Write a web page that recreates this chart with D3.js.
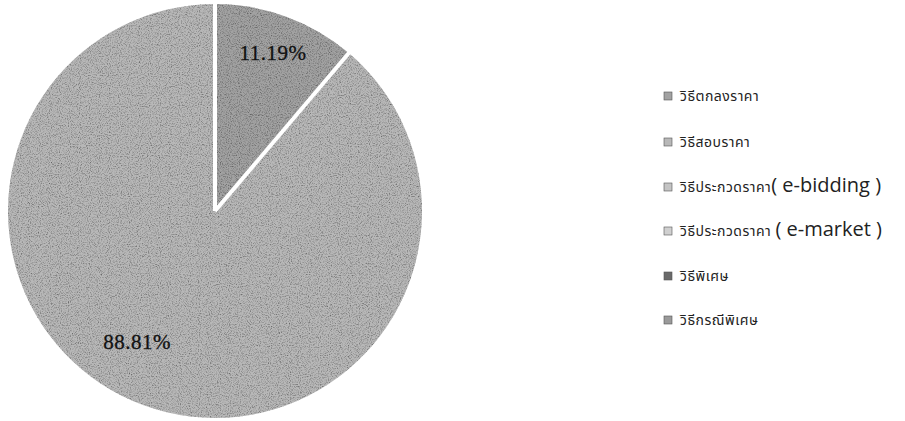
<!DOCTYPE html>
<html>
<head>
<meta charset="utf-8">
<script src="https://cdn.jsdelivr.net/npm/d3@7"></script>
<style>
body { margin: 0; background: #fff; }
</style>
</head>
<body>
<script>
var w = 905;
var h = 421;

// data
var categories = ["วิธีตกลงราคา", "วิธีสอบราคา", "วิธีประกวดราคา", "วิธีประกวดราคา ", "วิธีพิเศษ", "วิธีกรณีพิเศษ"];
var suffixes = ["", "", "( e-bidding )", "( e-market )", "", ""];
var values = [11.19, 88.81, 0, 0, 0, 0];
var labels = ["11.19%", "88.81%", "", "", "", ""];
var colors = ["#a2a2a2", "#b8b8b8", "#c4c4c4", "#d0d0d0", "#6a6a6a", "#9a9a9a"];

var svg = d3.select("body")
  .append("svg")
  .attr("width", w)
  .attr("height", h);

// grainy texture like the scan
var defs = svg.append("defs");
var f = defs.append("filter").attr("id", "grain").attr("x", 0).attr("y", 0).attr("width", 1).attr("height", 1);
f.append("feTurbulence").attr("type", "fractalNoise").attr("baseFrequency", 0.9).attr("numOctaves", 2).attr("seed", 3).attr("result", "noise");
f.append("feColorMatrix").attr("in", "noise").attr("type", "matrix")
  .attr("values", "0 0 0 0 0  0 0 0 0 0  0 0 0 0 0  0 0 0 -1.6 0.9").attr("result", "dots");
f.append("feComposite").attr("in", "dots").attr("in2", "SourceGraphic").attr("operator", "in").attr("result", "dotsIn");
f.append("feMerge").selectAll("feMergeNode").data(["SourceGraphic", "dotsIn"]).enter()
  .append("feMergeNode").attr("in", function(d) { return d; });

var cx = 215, cy = 211, r = 207;

var pie = d3.pie().sort(null).value(function(d) { return d; });
var arc = d3.arc().innerRadius(0).outerRadius(r);

var g = svg.append("g").attr("transform", "translate(" + cx + "," + cy + ")");

var arcs = pie(values).filter(function(d) { return d.value > 0; });

g.append("g").attr("filter", "url(#grain)")
  .selectAll("path")
  .data(arcs)
  .enter()
  .append("path")
  .attr("d", arc)
  .attr("fill", function(d) { return colors[d.index]; });

// white separators
g.selectAll("line.sep")
  .data(arcs)
  .enter()
  .append("line")
  .attr("class", "sep")
  .attr("x1", 0).attr("y1", 0)
  .attr("x2", function(d) { return Math.sin(d.startAngle) * (r + 2); })
  .attr("y2", function(d) { return -Math.cos(d.startAngle) * (r + 2); })
  .attr("stroke", "#fff")
  .attr("stroke-width", 4);

var labelPos = [[58, -151], [-78, 138]];
g.selectAll("text.pct")
  .data(arcs)
  .enter()
  .append("text")
  .attr("class", "pct")
  .attr("x", function(d, i) { return labelPos[i][0]; })
  .attr("y", function(d, i) { return labelPos[i][1]; })
  .attr("text-anchor", "middle")
  .attr("font-family", "'Liberation Serif', serif")
  .attr("font-size", "21px")
  .attr("letter-spacing", "0.5px")
  .attr("fill", "#111")
  .attr("stroke", "#111")
  .attr("stroke-width", 0.3)
  .text(function(d) { return labels[d.index]; });

// legend
var legend = svg.append("g").attr("transform", "translate(664,0)");
var rowY = [101, 147, 192, 236, 281, 325];

var item = legend.selectAll("g")
  .data(categories)
  .enter()
  .append("g")
  .attr("transform", function(d, i) { return "translate(0," + rowY[i] + ")"; });

item.append("rect")
  .attr("x", 0).attr("y", -9)
  .attr("width", 8).attr("height", 8)
  .attr("fill", function(d, i) { return colors[i]; })
  .attr("stroke", "#555")
  .attr("stroke-width", 0.6);

var t = item.append("text")
  .attr("x", 16).attr("y", 0)
  .attr("fill", "#222");
t.append("tspan")
  .attr("font-family", "'Noto Sans Thai', 'Noto Sans', sans-serif")
  .attr("font-size", "14px")
  .attr("letter-spacing", "0.5px")
  .text(function(d) { return d; });
t.append("tspan")
  .attr("font-family", "'Open Sans', 'Liberation Sans', sans-serif")
  .attr("font-size", "20px")
  .attr("letter-spacing", "0px")
  .text(function(d, i) { return suffixes[i]; });
</script>
</body>
</html>
